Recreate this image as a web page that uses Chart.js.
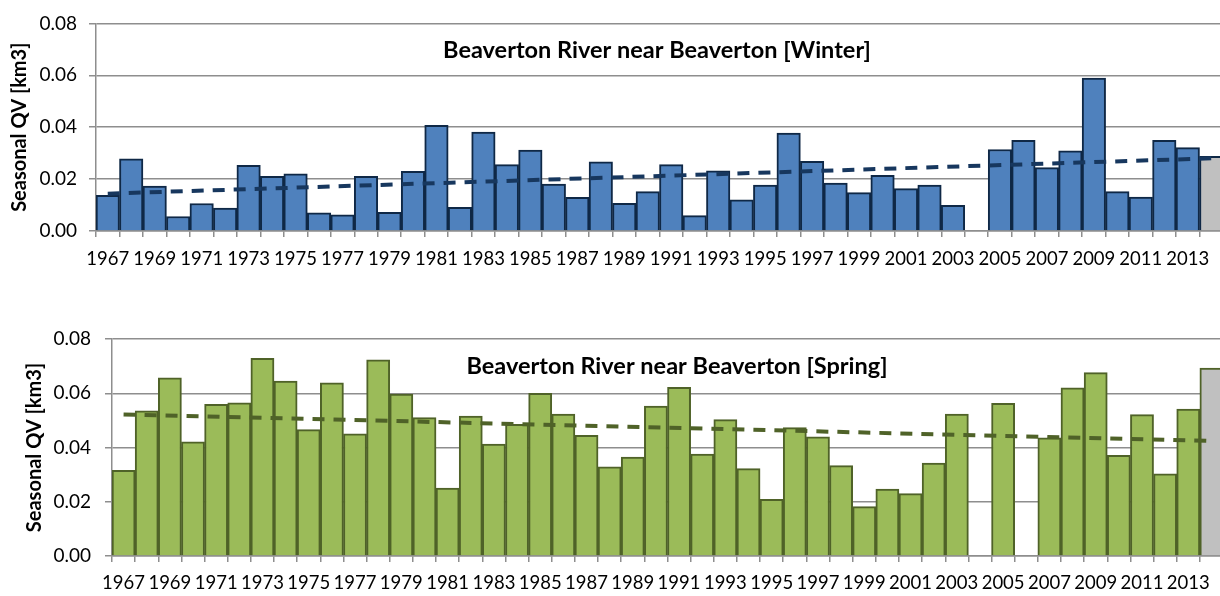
<!DOCTYPE html>
<html>
<head>
<meta charset="utf-8">
<script src="https://cdn.jsdelivr.net/npm/chart.js@4"></script>
<style>
  html, body { margin: 0; padding: 0; background: #fff; overflow: hidden; }
  .box { position: absolute; left: 0; }
  #winterBox { top: 0; }
  #springBox { top: 300px; }
</style>
</head>
<body>
<div class="box" id="winterBox"><canvas id="winter" width="1224" height="300"></canvas></div>
<div class="box" id="springBox"><canvas id="spring" width="1224" height="296"></canvas></div>
<script>
// Années hydrologiques 1967-2014 (la dernière est provisoire, en gris)
const years = []
for (let y = 1967; y <= 2014; y++) years.push(String(y))

// Volume saisonnier [km3] - hiver
const winterQV = [
  0.0137, 0.0278, 0.0173, 0.0056, 0.0106, 0.0088, 0.0253, 0.0211, 0.0220, 0.0070,
  0.0062, 0.0211, 0.0072, 0.0230, 0.0407, 0.0091, 0.0381, 0.0256, 0.0312, 0.0181,
  0.0130, 0.0267, 0.0107, 0.0152, 0.0256, 0.0059, 0.0232, 0.0120, 0.0177, 0.0377,
  0.0268, 0.0185, 0.0148, 0.0215, 0.0163, 0.0177, 0.0099, null,   0.0314, 0.0349,
  0.0244, 0.0309, 0.0589, 0.0152, 0.0131, 0.0349, 0.0321, 0.0288
]

// Volume saisonnier [km3] - printemps
const springQV = [
  0.0316, 0.0535, 0.0657, 0.0421, 0.0559, 0.0565, 0.0729, 0.0645, 0.0466, 0.0638,
  0.0450, 0.0723, 0.0597, 0.0510, 0.0250, 0.0516, 0.0413, 0.0485, 0.0600, 0.0523,
  0.0445, 0.0329, 0.0365, 0.0553, 0.0622, 0.0376, 0.0503, 0.0322, 0.0209, 0.0473,
  0.0439, 0.0333, 0.0182, 0.0247, 0.0230, 0.0343, 0.0523, null,   0.0563, null,
  0.0436, 0.0620, 0.0676, 0.0371, 0.0521, 0.0303, 0.0542, 0.0693
]

// Tendance linéaire : valeur en 1967 et en 2014
const winterTrend = [0.0144, 0.0280]
const springTrend = [0.0522, 0.0424]

const yTicks = [0, 0.02, 0.04, 0.06, 0.08]

const FONT = "Lato"
const GRID = "#8e8e8e"

// titre posé à l'intérieur de la zone du graphique
const innerTitle = {
  id: "innerTitle",
  afterDraw(chart, args, opts) {
    const ctx = chart.ctx
    ctx.save()
    ctx.font = "bold 23.5px " + FONT
    ctx.fillStyle = "#000"
    ctx.textAlign = "center"
    ctx.textBaseline = "middle"
    ctx.fillText(opts.text, opts.x, opts.y)
    ctx.restore()
  }
}

// trait de tendance : premier et dernier point, le reste est relié par spanGaps
function trendLine(ends) {
  const data = years.map(() => null)
  data[0] = ends[0]
  data[data.length - 1] = ends[1]
  return data
}

function makeChart(id, values, trend, cfg) {
  const last = values.length - 1
  return new Chart(document.getElementById(id), {
    type: "bar",
    data: {
      labels: years,
      datasets: [
        {
          type: "line",
          data: trendLine(trend),
          spanGaps: true,
          borderColor: cfg.trendColor,
          borderWidth: 4,
          borderDash: [12, 9],
          pointRadius: 0,
          fill: false,
          order: 0,
        },
        {
          data: values,
          backgroundColor: ctx => ctx.dataIndex === last ? "#c0c0c0" : cfg.fill,
          borderColor: cfg.border,
          borderWidth: 2,
          barPercentage: 1,
          categoryPercentage: 1,
          order: 1,
        },
      ],
    },
    options: {
      responsive: false,
      animation: false,
      events: [],
      layout: { padding: { top: cfg.top, left: 0, right: 1, bottom: 0 } },
      plugins: {
        legend: { display: false },
        tooltip: { enabled: false },
        innerTitle: { text: cfg.title, x: cfg.titleX, y: cfg.titleY },
      },
      scales: {
        x: {
          afterFit: s => { s.height = cfg.xHeight },
          grid: {
            offset: true,
            drawOnChartArea: false,
            color: GRID,
            lineWidth: 1.5,
            tickLength: 6,
          },
          border: { color: GRID, width: 1.5 },
          ticks: {
            autoSkip: false,
            maxRotation: 0,
            padding: cfg.xPad,
            color: "#000",
            font: { family: FONT, size: 18.5 },
            callback: (v, i) => i % 2 === 0 ? years[i] : "",
          },
        },
        y: {
          min: 0,
          max: 0.08,
          afterFit: s => { s.width = cfg.yWidth },
          afterBuildTicks: s => { s.ticks = yTicks.map(v => ({ value: v })) },
          grid: { color: GRID, lineWidth: 1.5, tickLength: 7 },
          border: { color: GRID, width: 1.5 },
          ticks: {
            padding: cfg.tickPad,
            color: "#000",
            font: { family: FONT, size: 19 },
            callback: v => v.toFixed(2),
          },
          title: {
            display: true,
            text: "Seasonal QV [km3]",
            color: "#000",
            font: { family: FONT, size: 20, weight: "bold" },
            padding: { top: cfg.titlePad, bottom: 0 },
          },
        },
      },
    },
    plugins: [innerTitle],
  })
}

document.fonts.load("19px " + FONT).then(() => document.fonts.load("bold 23px " + FONT)).finally(() => {
  makeChart("winter", winterQV, winterTrend, {
    fill: "#4f81bd",
    border: "#0f2846",
    trendColor: "#17375e",
    title: "Beaverton River near Beaverton [Winter]",
    titleX: 657,
    titleY: 50,
    top: 15,
    xHeight: 69,
    yWidth: 96,
    tickPad: 12,
    titlePad: 8,
    xPad: 11,
  })

  makeChart("spring", springQV, springTrend, {
    fill: "#9bbb59",
    border: "#4f6228",
    trendColor: "#4f6228",
    title: "Beaverton River near Beaverton [Spring]",
    titleX: 677,
    titleY: 66,
    top: 39,
    xHeight: 40,
    yWidth: 112,
    tickPad: 14,
    titlePad: 23,
    xPad: 10,
  })
})
</script>
</body>
</html>
